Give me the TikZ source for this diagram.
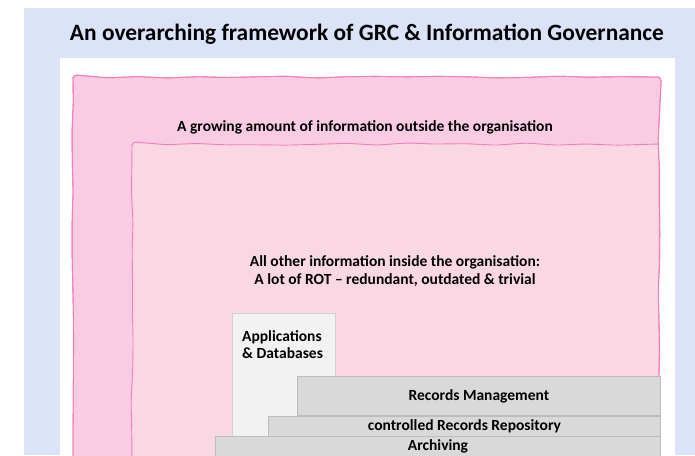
\documentclass[tikz,border=0pt]{standalone}
\usepackage{fontspec}
\setmainfont{Carlito}
\usepackage{tikz}
\usetikzlibrary{positioning,decorations.pathmorphing}
\usepackage{xcolor}
\definecolor{sheet}{HTML}{DAE3F7}
\definecolor{outerpink}{HTML}{F9CCE3}
\definecolor{innerpink}{HTML}{F9D7E3}
\definecolor{pinkline}{HTML}{F07EB8}
\definecolor{layergray}{HTML}{D9D9D9}
\definecolor{layerline}{HTML}{BDBDBD}
\definecolor{appgray}{HTML}{F2F2F2}

\begin{document}
\begin{tikzpicture}[x=1pt, y=-1pt,
  wavy/.style={draw=pinkline, line width=0.9pt, decorate,
               decoration={random steps, segment length=30pt, amplitude=1.2pt},
               rounded corners=4pt},
  layer/.style={draw=layerline, fill=layergray, line width=0.8pt, anchor=north west,
                inner sep=0pt, font=\bfseries\fontsize{15.5}{17}\selectfont},
  lbl/.style={font=\bfseries\fontsize{15.5}{18}\selectfont, align=center}
]
  \useasboundingbox (0,0) rectangle (695,455);
  \fill[sheet] (24,8) rectangle (695,455);
  \fill[white] (60,58) rectangle (675,455);

  \node[font=\bfseries\fontsize{23.4}{27}\selectfont] (title) at (367,34)
    {An overarching framework of GRC \& Information Governance};

  % outside / inside the organisation
  \pgfmathsetseed{11}
  \path[wavy, fill=outerpink] (73,462) -- (73,77) -- (659,77) -- (659,462);
  \fill[innerpink] (132,462) rectangle (658,144);
  \path[wavy] (132,462) -- (132,144) -- (659,144);
  \pgfmathsetseed{11}
  \path[wavy] (73,462) -- (73,77) -- (659,77) -- (659,462);

  \node[lbl] (outside) at (365,127) {A growing amount of information outside the organisation};
  \node[lbl] (inside) at (395,271)
    {All other information inside the organisation:\\A lot of ROT -- redundant, outdated \& trivial};

  % systems and layers
  \node[draw=layerline!70, fill=appgray, line width=0.8pt, anchor=north west,
        minimum width=103pt, minimum height=125pt, inner sep=0pt] (apps) at (232,313) {};
  \node[font=\bfseries\fontsize{15.5}{17}\selectfont, align=left, anchor=north west,
        inner sep=0pt] (appstext) at (242,330) {Applications\\\& Databases};

  \node[layer, minimum width=363pt, minimum height=39pt] (recman) at (297,376) {Records Management};
  \node[layer, minimum width=392pt, minimum height=20pt] (repo) at (268,416) {controlled Records Repository};
  \node[layer, minimum width=445pt, minimum height=22pt] (archive) at (215,436) {};
  \node[font=\bfseries\fontsize{15.5}{17}\selectfont] (archtext) at (438,446) {Archiving};
\end{tikzpicture}
\end{document}
